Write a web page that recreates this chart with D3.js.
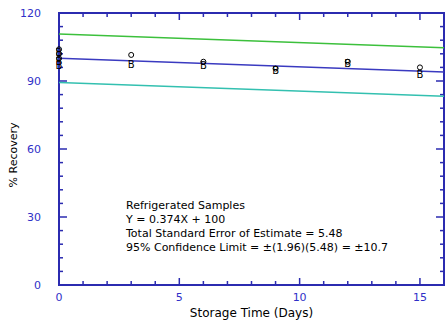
<!DOCTYPE html>
<html>
<head>
<meta charset="utf-8">
<script src="https://cdn.jsdelivr.net/npm/d3@7"></script>
<style>
  body { margin: 0; background: #fff; }
  svg { display: block; }
</style>
</head>
<body>
<div id="chart"></div>
<script>
// data
const daysA = [0, 0, 0, 3, 6, 9, 12, 15];
const recoveryA = [104, 102, 100, 101.5, 98.5, 95.5, 98.5, 96];
const daysB = [0, 0, 0, 3, 6, 9, 12, 15];
const recoveryB = [103, 99, 97, 97.5, 97, 94.8, 97.8, 93];
const slope = -0.374, intercept = 100, limit = 10.7;
const xTicks = [0, 5, 10, 15];
const yTicks = [0, 30, 60, 90, 120];
const notes = [
    "Refrigerated Samples",
    "Y = 0.374X + 100",
    "Total Standard Error of Estimate = 5.48",
    "95% Confidence Limit = \u00b1(1.96)(5.48) = \u00b110.7"
];

const width = 447, height = 326;
const margin = { top: 13, right: 3, bottom: 41, left: 59 };
const axisColor = "#2b2bb0", labelColor = "#3030c8";
const font = "DejaVu Sans, Verdana, sans-serif";

const svg = d3.select("#chart").append("svg")
    .attr("width", width)
    .attr("height", height);

const x = d3.scaleLinear().domain([0, 16]).range([margin.left, width - margin.right]);
const y = d3.scaleLinear().domain([0, 120]).range([height - margin.bottom, margin.top]);

// frame
const frame = svg.append("g").attr("stroke", axisColor).attr("stroke-width", 2).attr("fill", "none");
frame.append("rect")
    .attr("x", x(0)).attr("y", y(120))
    .attr("width", x(16) - x(0)).attr("height", y(0) - y(120));

// minor + major ticks, pointing inward on all four sides
const xt = d3.range(1, 16);
const yt = d3.range(6, 120, 6);
const tk = svg.append("g").attr("stroke", axisColor).attr("stroke-width", 1.5);
xt.forEach(d => {
    const len = d % 5 === 0 ? 7 : 4;
    tk.append("line").attr("x1", x(d)).attr("x2", x(d)).attr("y1", y(0)).attr("y2", y(0) - len);
    tk.append("line").attr("x1", x(d)).attr("x2", x(d)).attr("y1", y(120)).attr("y2", y(120) + len);
});
yt.forEach(d => {
    const len = d % 30 === 0 ? 8 : 4;
    tk.append("line").attr("x1", x(0)).attr("x2", x(0) + len).attr("y1", y(d)).attr("y2", y(d));
    tk.append("line").attr("x1", x(16)).attr("x2", x(16) - len).attr("y1", y(d)).attr("y2", y(d));
});

// tick labels
svg.append("g").selectAll("text").data(xTicks).enter().append("text")
    .attr("x", d => x(d)).attr("y", y(0) + 16)
    .attr("text-anchor", "middle")
    .style("font-family", font)
    .style("font-size", "11px")
    .attr("fill", labelColor)
    .text(d => d);

svg.append("g").selectAll("text").data(yTicks).enter().append("text")
    .attr("x", 41).attr("y", d => y(d) + 4)
    .attr("text-anchor", "end")
    .style("font-family", font)
    .style("font-size", "11px")
    .attr("fill", labelColor)
    .text(d => d);

// axis titles
svg.append("text")
    .attr("x", (x(0) + x(16)) / 2).attr("y", 317)
    .attr("text-anchor", "middle")
    .style("font-family", font)
    .style("font-size", "12px")
    .text("Storage Time (Days)");

svg.append("text")
    .attr("transform", `translate(17,${(y(0) + y(120)) / 2 + 6}) rotate(-90)`)
    .attr("text-anchor", "middle")
    .style("font-family", font)
    .style("font-size", "11px")
    .text("% Recovery");

// regression line and confidence limits
const fit = (d, off) => intercept + slope * d + off;
const lines = [
    { off: limit, color: "#3cc03c" },
    { off: 0, color: "#3a3ac0" },
    { off: -limit, color: "#33c0b0" }
];
lines.forEach(l => {
    svg.append("line")
        .attr("x1", x(0)).attr("y1", y(fit(0, l.off)))
        .attr("x2", x(16)).attr("y2", y(fit(16, l.off)))
        .attr("stroke", l.color).attr("stroke-width", 1.5);
});

// data points
const ptsA = daysA.map((d, i) => ({ day: d, rec: recoveryA[i] }));
const ptsB = daysB.map((d, i) => ({ day: d, rec: recoveryB[i] }));

svg.append("g").selectAll("circle").data(ptsA).enter().append("circle")
    .attr("cx", d => x(d.day)).attr("cy", d => y(d.rec))
    .attr("r", 2.5)
    .attr("fill", "none").attr("stroke", "#000").attr("stroke-width", 1);

svg.append("g").selectAll("text").data(ptsB).enter().append("text")
    .attr("x", d => x(d.day)).attr("y", d => y(d.rec) + 4)
    .attr("text-anchor", "middle")
    .style("font-family", font)
    .style("font-size", "10px")
    .attr("fill", "#000")
    .text("B");

// annotation
svg.append("g").selectAll("text").data(notes).enter().append("text")
    .attr("x", 126).attr("y", (d, i) => 209 + i * 14)
    .style("font-family", font)
    .style("font-size", "11px")
    .attr("fill", "#000")
    .text(d => d);
</script>
</body>
</html>
